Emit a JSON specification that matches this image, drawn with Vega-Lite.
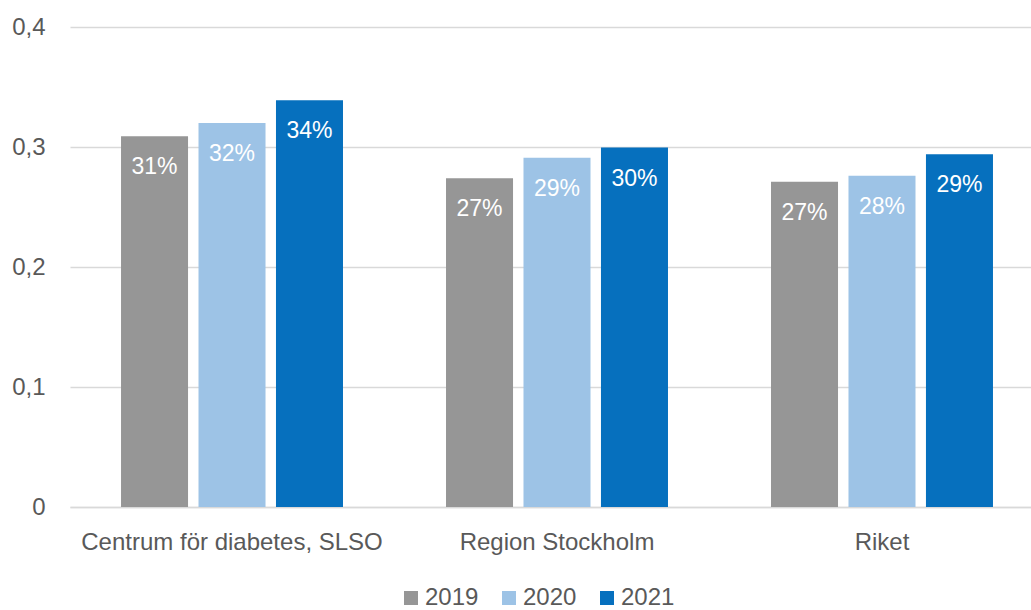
{
  "$schema": "https://vega.github.io/schema/vega-lite/v6.json",
  "width": 961,
  "height": 480,
  "autosize": {"type": "none"},
  "padding": {"left": 70, "top": 27, "right": 0, "bottom": 103},
  "background": "white",
  "data": {
    "values": [
      {"enhet": "Centrum för diabetes, SLSO", "ar": "2019", "andel": 0.309},
      {"enhet": "Centrum för diabetes, SLSO", "ar": "2020", "andel": 0.320},
      {"enhet": "Centrum för diabetes, SLSO", "ar": "2021", "andel": 0.339},
      {"enhet": "Region Stockholm", "ar": "2019", "andel": 0.274},
      {"enhet": "Region Stockholm", "ar": "2020", "andel": 0.291},
      {"enhet": "Region Stockholm", "ar": "2021", "andel": 0.2995},
      {"enhet": "Riket", "ar": "2019", "andel": 0.271},
      {"enhet": "Riket", "ar": "2020", "andel": 0.276},
      {"enhet": "Riket", "ar": "2021", "andel": 0.294}
    ]
  },
  "encoding": {
    "x": {
      "field": "enhet",
      "type": "nominal",
      "sort": null,
      "title": null,
      "scale": {"paddingInner": 0.317, "paddingOuter": 0.137, "align": 0.573},
      "axis": {
        "labelAngle": 0,
        "ticks": false,
        "tickSize": 0,
        "labelPadding": 23,
        "labelFont": "Liberation Sans",
        "labelFontSize": 24,
        "labelColor": "#595959",
        "domainColor": "#D9D9D9",
        "domainWidth": 1.5,
        "grid": false,
        "labelLimit": 400
      }
    },
    "xOffset": {
      "field": "ar",
      "type": "nominal",
      "scale": {"paddingInner": 0.135, "paddingOuter": 0}
    },
    "y": {
      "field": "andel",
      "type": "quantitative",
      "title": null,
      "scale": {"domain": [0, 0.4], "nice": false},
      "axis": {
        "values": [0, 0.1, 0.2, 0.3, 0.4],
        "format": "~g",
        "labelExpr": "replace(datum.label, '.', ',')",
        "domain": false,
        "ticks": false,
        "tickSize": 0,
        "labelPadding": 25,
        "labelFont": "Liberation Sans",
        "labelFontSize": 24,
        "labelColor": "#595959",
        "gridColor": "#D9D9D9",
        "gridWidth": 1.5
      }
    }
  },
  "layer": [
    {
      "mark": {"type": "bar"},
      "encoding": {
        "color": {
          "field": "ar",
          "type": "nominal",
          "scale": {
            "domain": ["2019", "2020", "2021"],
            "range": ["#969696", "#9DC3E6", "#0670BE"]
          },
          "legend": {
            "title": null,
            "orient": "none",
            "legendX": 329,
            "legendY": 559,
            "direction": "horizontal",
            "symbolType": "square",
            "symbolSize": 196,
            "symbolStrokeWidth": 0,
            "labelFont": "Liberation Sans",
            "labelFontSize": 24,
            "labelColor": "#595959",
            "labelOffset": 2,
            "columnPadding": 18
          }
        }
      }
    },
    {
      "mark": {
        "type": "text",
        "baseline": "middle",
        "align": "center",
        "dy": 31,
        "color": "white",
        "font": "Liberation Sans",
        "fontSize": 23
      },
      "encoding": {
        "text": {"field": "andel", "type": "quantitative", "format": ".0%"}
      }
    }
  ],
  "config": {
    "view": {"stroke": null}
  }
}
